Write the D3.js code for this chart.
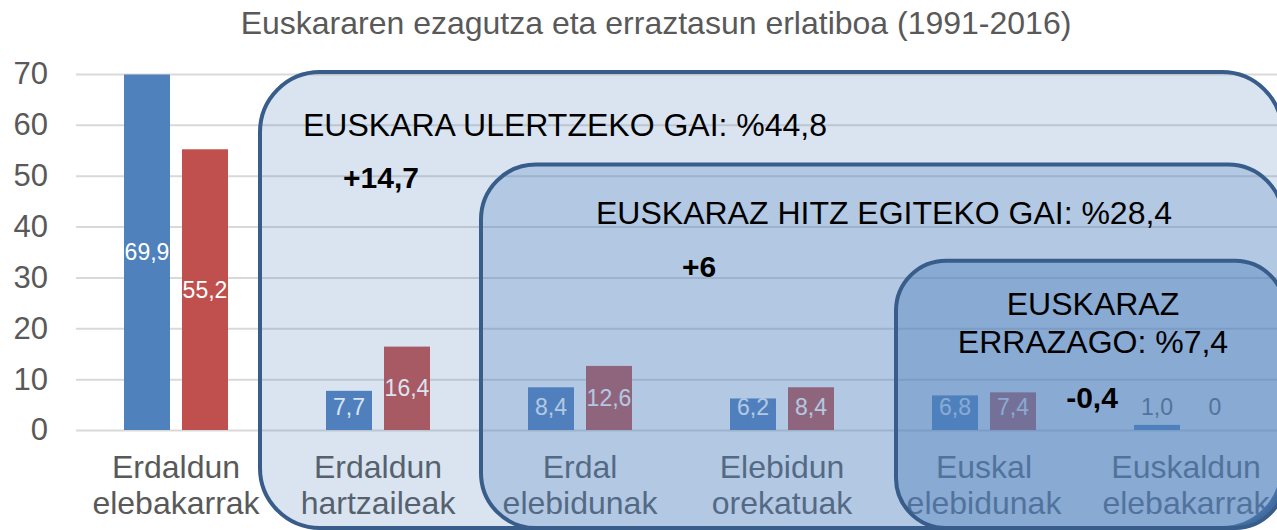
<!DOCTYPE html>
<html>
<head>
<meta charset="utf-8">
<script src="https://cdn.jsdelivr.net/npm/d3@7"></script>
<style>
  body { margin: 0; background: #fff; }
  svg { display: block; font-family: "Liberation Sans", Arial, sans-serif; }
</style>
</head>
<body>
<div id="container"></div>
<script>
/* DATA */
const categories = [
  ["Erdaldun", "elebakarrak"],
  ["Erdaldun", "hartzaileak"],
  ["Erdal", "elebidunak"],
  ["Elebidun", "orekatuak"],
  ["Euskal", "elebidunak"],
  ["Euskaldun", "elebakarrak"]
]
const years = ["1991", "2016"]
const values1991 = [69.9, 7.7, 8.4, 6.2, 6.8, 1.0]
const values2016 = [55.2, 16.4, 12.6, 8.4, 7.4, 0]
const yTicks = [0, 10, 20, 30, 40, 50, 60, 70]

// nested frames: first category covered, top value, title lines, change
const frameStart = [1, 2, 4]
const frameTop = [70.4, 52.2, 33.3]
const frameTitles = [
  ["EUSKARA ULERTZEKO GAI: %44,8"],
  ["EUSKARAZ HITZ EGITEKO GAI: %28,4"],
  ["EUSKARAZ", "ERRAZAGO: %7,4"]
]
const frameChange = ["+14,7", "+6", "-0,4"]

/* CONSTANTS */
const width = 1277,
  height = 530,
  plotLeft = 75,
  plotRight = 1287,
  plotTop = 74,
  plotBottom = 430

const svg = d3.select("#container")
  .append("svg")
  .attr("width", width)
  .attr("height", height)

// SCALES
const x0 = d3.scaleBand()
  .domain(d3.range(categories.length))
  .range([plotLeft, plotRight])

const x1 = d3.scaleBand()
  .domain(years)
  .range([0, x0.bandwidth()])
  .paddingInner(0.207)
  .paddingOuter(0.845)

const y = d3.scaleLinear()
  .domain([0, 70])
  .range([plotBottom, plotTop])

const colors = d3.scaleOrdinal().domain(years).range(["#4f81bd", "#c0504d"])

// TITLE
svg.append("text")
  .attr("x", 656)
  .attr("y", 34)
  .attr("text-anchor", "middle")
  .attr("fill", "#595959")
  .style("font-size", "32px")
  .text("Euskararen ezagutza eta erraztasun erlatiboa (1991-2016)")

// GRID + Y AXIS
const yAxis = d3.axisLeft(y)
  .tickValues(yTicks)
  .tickSize(-(width - plotLeft))
  .tickPadding(28)

svg.append("g")
  .attr("transform", `translate(${plotLeft + 1}, 0)`)
  .call(yAxis)
  .call(g => g.select(".domain").remove())
  .call(g => g.selectAll(".tick line").attr("stroke", "#d9d9d9").attr("stroke-width", 2))
  .call(g => g.selectAll(".tick text")
    .attr("fill", "#595959")
    .style("font-size", "31px")
    .attr("font-family", "Liberation Sans, Arial, sans-serif"))

// BARS
const rows = categories.map((c, i) => ({
  i,
  bars: [
    { year: "1991", v: values1991[i] },
    { year: "2016", v: values2016[i] }
  ]
}))

const groups = svg.selectAll("g.cat")
  .data(rows)
  .join("g")
  .attr("class", "cat")
  .attr("transform", d => `translate(${x0(d.i)}, 0)`)

groups.selectAll("rect")
  .data(d => d.bars)
  .join("rect")
  .attr("x", d => x1(d.year))
  .attr("width", x1.bandwidth())
  .attr("y", d => y(d.v))
  .attr("height", d => y(0) - y(d.v))
  .attr("fill", d => colors(d.year))

groups.selectAll("text.val")
  .data(d => d.bars)
  .join("text")
  .attr("class", "val")
  .attr("x", d => x1(d.year) + x1.bandwidth() / 2)
  .attr("y", d => Math.min((y(d.v) + y(0)) / 2, y(0) - 23))
  .attr("dy", "0.35em")
  .attr("text-anchor", "middle")
  .attr("fill", d => d.v < 3 ? "#595959" : "#fff")
  .style("font-size", "23px")
  .text(d => d3.format(d.v === 0 ? ".0f" : ".1f")(d.v).replace(".", ","))

// CATEGORY LABELS
groups.append("text")
  .attr("x", x0.bandwidth() / 2)
  .attr("y", plotBottom + 48)
  .attr("text-anchor", "middle")
  .attr("fill", "#595959")
  .style("font-size", "32px")
  .selectAll("tspan")
  .data(d => categories[d.i])
  .join("tspan")
  .attr("x", x0.bandwidth() / 2)
  .attr("dy", (d, i) => i === 0 ? 0 : 36)
  .text(d => d)

// FRAMES
const frameLeft = [x0(1) - 17, x0(2) + 2, x0(4) + 13]
const frameRight = [1282, 1283, 1285]
const frameRadius = [60, 55, 50]
const frameAlpha = [0.21, 0.28, 0.42]

svg.selectAll("rect.frame")
  .data(frameStart)
  .join("rect")
  .attr("class", "frame")
  .attr("x", (d, i) => frameLeft[i])
  .attr("y", (d, i) => y(frameTop[i]))
  .attr("width", (d, i) => frameRight[i] - frameLeft[i])
  .attr("height", (d, i) => 528 - y(frameTop[i]))
  .attr("rx", (d, i) => frameRadius[i])
  .attr("fill", "#4f81bd")
  .attr("fill-opacity", (d, i) => frameAlpha[i])
  .attr("stroke", "#385d8a")
  .attr("stroke-width", 4)

// FRAME TEXTS
const titlePos = [
  { x: 303, y: 136, anchor: "start" },
  { x: 596, y: 224, anchor: "start" },
  { x: 1093, y: 315, anchor: "middle" }
]
const changePos = [
  { x: 381, y: 188 },
  { x: 699, y: 277 },
  { x: 1092, y: 408 }
]

frameTitles.forEach((lines, i) => {
  svg.append("text")
    .attr("x", titlePos[i].x)
    .attr("y", titlePos[i].y)
    .attr("text-anchor", titlePos[i].anchor)
    .attr("fill", "#000")
    .style("font-size", "32px")
    .selectAll("tspan")
    .data(lines)
    .join("tspan")
    .attr("x", titlePos[i].x)
    .attr("dy", (d, j) => j === 0 ? 0 : 38)
    .text(d => d)

  svg.append("text")
    .attr("x", changePos[i].x)
    .attr("y", changePos[i].y)
    .attr("text-anchor", "middle")
    .attr("fill", "#000")
    .attr("font-weight", "bold")
    .style("font-size", "30px")
    .text(frameChange[i])
})
</script>
</body>
</html>
